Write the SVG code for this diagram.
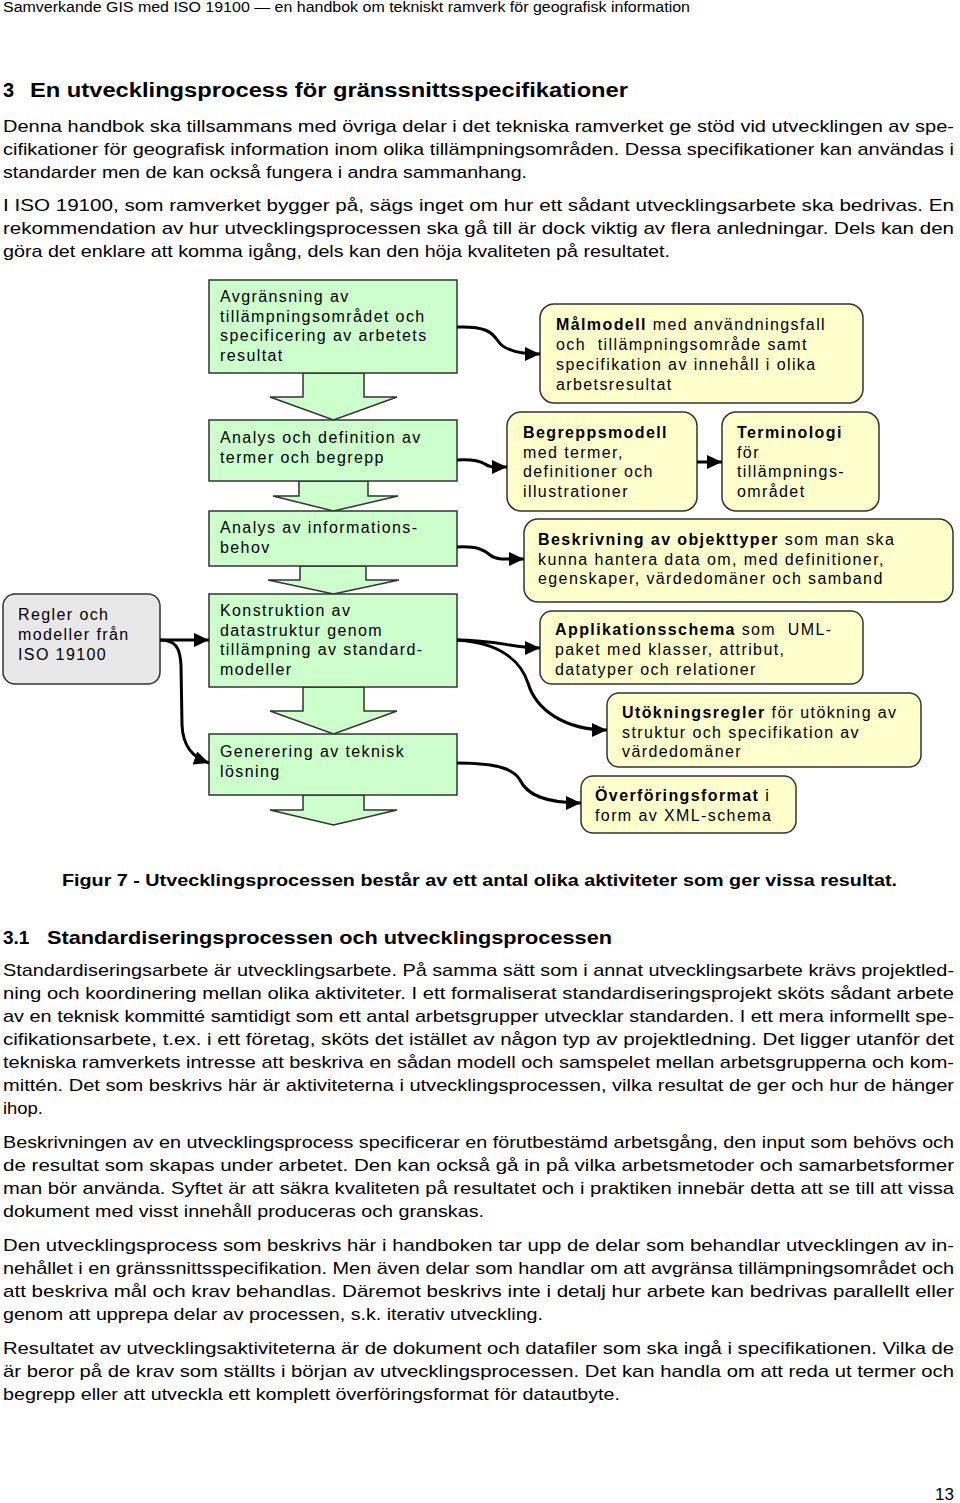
<svg xmlns="http://www.w3.org/2000/svg" width="960" height="1503" viewBox="0 0 960 1503">
<style>
.body{font-family:"Liberation Sans",Arial,sans-serif;font-size:17px;fill:#000}
.hdr{font-family:"Liberation Sans",Arial,sans-serif;font-size:14px;fill:#000}
.h1{font-family:"Liberation Sans",Arial,sans-serif;font-size:20px;font-weight:bold;fill:#000}
.h2{font-family:"Liberation Sans",Arial,sans-serif;font-size:19px;font-weight:bold;fill:#000}
.cap{font-family:"Liberation Sans",Arial,sans-serif;font-size:17px;font-weight:bold;fill:#000}
.bt{font-family:"Liberation Sans",Arial,sans-serif;font-size:16px;letter-spacing:1.4px;fill:#000}
.b{font-weight:bold}
.green{fill:#ccffcc;stroke:#333;stroke-width:1.5}
.yellow{fill:#ffffcc;stroke:#333;stroke-width:1.5}
.gray{fill:#e8e8e8;stroke:#333;stroke-width:1.5}
.conn{fill:none;stroke:#000;stroke-width:3;marker-end:url(#ah)}
</style>
<defs>
<marker id="ah" markerUnits="userSpaceOnUse" markerWidth="16" markerHeight="14" refX="15" refY="7" orient="auto">
<path d="M0,0 L15,7 L0,14 z" fill="#000"/>
</marker>
</defs>
<rect width="960" height="1503" fill="#fff"/>

<text class="hdr" x="3" y="12" textLength="687" lengthAdjust="spacingAndGlyphs">Samverkande GIS med ISO 19100  —  en handbok om tekniskt ramverk för geografisk information</text>

<text class="h1" x="3" y="97">3</text>
<text class="h1" x="30" y="97" textLength="598" lengthAdjust="spacingAndGlyphs">En utvecklingsprocess för gränssnittsspecifikationer</text>

<g class="body">
<text x="3" y="132" textLength="951" lengthAdjust="spacingAndGlyphs">Denna handbok ska tillsammans med övriga delar i det tekniska ramverket ge stöd vid utvecklingen av spe-</text>
<text x="3" y="155" textLength="951" lengthAdjust="spacingAndGlyphs">cifikationer för geografisk information inom olika tillämpningsområden. Dessa specifikationer kan användas i</text>
<text x="3" y="178" textLength="524" lengthAdjust="spacingAndGlyphs">standarder men de kan också fungera i andra sammanhang.</text>
<text x="3" y="211" textLength="951" lengthAdjust="spacingAndGlyphs">I ISO 19100, som ramverket bygger på, sägs inget om hur ett sådant utvecklingsarbete ska bedrivas. En</text>
<text x="3" y="234" textLength="951" lengthAdjust="spacingAndGlyphs">rekommendation av hur utvecklingsprocessen ska gå till är dock viktig av flera anledningar. Dels kan den</text>
<text x="3" y="257" textLength="667" lengthAdjust="spacingAndGlyphs">göra det enklare att komma igång, dels kan den höja kvaliteten på resultatet.</text>
</g>

<!-- block arrows -->
<g id="flow-arrows" class="green">
<polygon points="303,373 303,397 270,397 333.5,420 397,397 364,397 364,373"/>
<polygon points="299,481 299,496 273,496 333.5,511 398,496 368,496 368,481"/>
<polygon points="300,566 300,580 268,580 333.5,594 399,580 366,580 366,566"/>
<polygon points="303,687 303,711 270,711 333.5,734 397,711 364,711 364,687"/>
<polygon points="303,795 303,810 270,810 333.5,825 397,810 364,810 364,795"/>
</g>

<g id="n-avgransning">
<rect class="green" x="209" y="280" width="248" height="93"/>
<text class="bt"><tspan x="220" y="302">Avgränsning av</tspan><tspan x="220" y="321.7">tillämpningsområdet och</tspan><tspan x="220" y="341.4">specificering av arbetets</tspan><tspan x="220" y="361">resultat</tspan></text>
</g>
<g id="n-analys-termer">
<rect class="green" x="209" y="420" width="248" height="61"/>
<text class="bt"><tspan x="220" y="443">Analys och definition av</tspan><tspan x="220" y="462.5">termer och begrepp</tspan></text>
</g>
<g id="n-analys-info">
<rect class="green" x="209" y="511" width="248" height="55"/>
<text class="bt"><tspan x="220" y="533">Analys av informations-</tspan><tspan x="220" y="552.7">behov</tspan></text>
</g>
<g id="n-konstruktion">
<rect class="green" x="209" y="594" width="248" height="93"/>
<text class="bt"><tspan x="220" y="616">Konstruktion av</tspan><tspan x="220" y="635.7">datastruktur genom</tspan><tspan x="220" y="655.4">tillämpning av standard-</tspan><tspan x="220" y="675">modeller</tspan></text>
</g>
<g id="n-generering">
<rect class="green" x="209" y="734" width="248" height="61"/>
<text class="bt"><tspan x="220" y="757">Generering av teknisk</tspan><tspan x="220" y="776.7">lösning</tspan></text>
</g>
<g id="n-regler">
<rect class="gray" x="3" y="594" width="157" height="90" rx="12"/>
<text class="bt"><tspan x="18" y="620">Regler och</tspan><tspan x="18" y="640">modeller från</tspan><tspan x="18" y="660">ISO 19100</tspan></text>
</g>

<g id="n-malmodell">
<rect class="yellow" x="540" y="304" width="323" height="99" rx="14"/>
<text class="bt"><tspan x="556" y="330"><tspan class="b">Målmodell</tspan> med användningsfall</tspan><tspan x="556" y="350">och&#160; tillämpningsområde samt</tspan><tspan x="556" y="370">specifikation av innehåll i olika</tspan><tspan x="556" y="390">arbetsresultat</tspan></text>
</g>
<g id="n-begreppsmodell">
<rect class="yellow" x="507" y="412" width="190" height="99" rx="14"/>
<text class="bt"><tspan x="523" y="438" class="b">Begreppsmodell</tspan><tspan x="523" y="457.6">med termer,</tspan><tspan x="523" y="477.2">definitioner och</tspan><tspan x="523" y="496.8">illustrationer</tspan></text>
</g>
<g id="n-terminologi">
<rect class="yellow" x="722" y="412" width="157" height="99" rx="14"/>
<text class="bt"><tspan x="737" y="438" class="b">Terminologi</tspan><tspan x="737" y="457.6">för</tspan><tspan x="737" y="477.2">tillämpnings-</tspan><tspan x="737" y="496.8">området</tspan></text>
</g>
<g id="n-beskrivning">
<rect class="yellow" x="524" y="519" width="429" height="83" rx="14"/>
<text class="bt"><tspan x="538" y="545"><tspan class="b">Beskrivning av objekttyper</tspan> som man ska</tspan><tspan x="538" y="564.5">kunna hantera data om, med definitioner,</tspan><tspan x="538" y="584">egenskaper, värdedomäner och samband</tspan></text>
</g>
<g id="n-applikationsschema">
<rect class="yellow" x="540" y="611" width="323" height="73" rx="12"/>
<text class="bt"><tspan x="555" y="635"><tspan class="b">Applikationsschema</tspan> som&#160; UML-</tspan><tspan x="555" y="655">paket med klasser, attribut,</tspan><tspan x="555" y="675">datatyper och relationer</tspan></text>
</g>
<g id="n-utokningsregler">
<rect class="yellow" x="607" y="693" width="314" height="74" rx="12"/>
<text class="bt"><tspan x="622" y="718"><tspan class="b">Utökningsregler</tspan> för utökning av</tspan><tspan x="622" y="737.5">struktur och specifikation av</tspan><tspan x="622" y="757">värdedomäner</tspan></text>
</g>
<g id="n-overforingsformat">
<rect class="yellow" x="581" y="776" width="215" height="57" rx="12"/>
<text class="bt"><tspan x="595" y="801"><tspan class="b">Överföringsformat</tspan> i</tspan><tspan x="595" y="820.5">form av XML-schema</tspan></text>
</g>

<g id="connectors">
<path class="conn" d="M457,327 C485,326 492,332 498,341 C504,350 518,354 540,354"/>
<path class="conn" d="M457,460 C474,459 480,461 485,464 C490,468 495,467 507,467"/>
<path class="conn" d="M457,547 C478,546 484,550 490,555 C496,560 505,559 524,559"/>
<path class="conn" d="M697,462 L722,462"/>
<path class="conn" d="M160,640 L209,640"/>
<path class="conn" d="M160,640 C176,640 180,648 181,665 L182,725 C183,746 192,757 209,763"/>
<path class="conn" d="M457,640 C495,640 515,648 540,648"/>
<path class="conn" d="M457,640 C505,643 522,665 528,683 C536,710 565,730 607,730"/>
<path class="conn" d="M457,763 C500,763 514,770 520,780 C527,795 545,803 581,803"/>
</g>

<text class="cap" x="62" y="886" textLength="835" lengthAdjust="spacingAndGlyphs">Figur 7 - Utvecklingsprocessen består av ett antal olika aktiviteter som ger vissa resultat.</text>

<text class="h2" x="3" y="944">3.1</text>
<text class="h2" x="47" y="944" textLength="565" lengthAdjust="spacingAndGlyphs">Standardiseringsprocessen och utvecklingsprocessen</text>

<g class="body">
<text x="3" y="976" textLength="951" lengthAdjust="spacingAndGlyphs">Standardiseringsarbete är utvecklingsarbete. På samma sätt som i annat utvecklingsarbete krävs projektled-</text>
<text x="3" y="999" textLength="951" lengthAdjust="spacingAndGlyphs">ning och koordinering mellan olika aktiviteter. I ett formaliserat standardiseringsprojekt sköts sådant arbete</text>
<text x="3" y="1022" textLength="951" lengthAdjust="spacingAndGlyphs">av en teknisk kommitté samtidigt som ett antal arbetsgrupper utvecklar standarden. I ett mera informellt spe-</text>
<text x="3" y="1045" textLength="951" lengthAdjust="spacingAndGlyphs">cifikationsarbete, t.ex. i ett företag, sköts det istället av någon typ av projektledning. Det ligger utanför det</text>
<text x="3" y="1068" textLength="951" lengthAdjust="spacingAndGlyphs">tekniska ramverkets intresse att beskriva en sådan modell och samspelet mellan arbetsgrupperna och kom-</text>
<text x="3" y="1091" textLength="951" lengthAdjust="spacingAndGlyphs">mittén. Det som beskrivs här är aktiviteterna i utvecklingsprocessen, vilka resultat de ger och hur de hänger</text>
<text x="3" y="1114" textLength="40" lengthAdjust="spacingAndGlyphs">ihop.</text>

<text x="3" y="1148" textLength="951" lengthAdjust="spacingAndGlyphs">Beskrivningen av en utvecklingsprocess specificerar en förutbestämd arbetsgång, den input som behövs och</text>
<text x="3" y="1171" textLength="951" lengthAdjust="spacingAndGlyphs">de resultat som skapas under arbetet. Den kan också gå in på vilka arbetsmetoder och samarbetsformer</text>
<text x="3" y="1194" textLength="951" lengthAdjust="spacingAndGlyphs">man bör använda. Syftet är att säkra kvaliteten på resultatet och i praktiken innebär detta att se till att vissa</text>
<text x="3" y="1217" textLength="481" lengthAdjust="spacingAndGlyphs">dokument med visst innehåll produceras och granskas.</text>

<text x="3" y="1251" textLength="951" lengthAdjust="spacingAndGlyphs">Den utvecklingsprocess som beskrivs här i handboken tar upp de delar som behandlar utvecklingen av in-</text>
<text x="3" y="1274" textLength="951" lengthAdjust="spacingAndGlyphs">nehållet i en gränssnittsspecifikation. Men även delar som handlar om att avgränsa tillämpningsområdet och</text>
<text x="3" y="1297" textLength="951" lengthAdjust="spacingAndGlyphs">att beskriva mål och krav behandlas. Däremot beskrivs inte i detalj hur arbete kan bedrivas parallellt eller</text>
<text x="3" y="1320" textLength="540" lengthAdjust="spacingAndGlyphs">genom att upprepa delar av processen, s.k. iterativ utveckling.</text>

<text x="3" y="1354" textLength="951" lengthAdjust="spacingAndGlyphs">Resultatet av utvecklingsaktiviteterna är de dokument och datafiler som ska ingå i specifikationen. Vilka de</text>
<text x="3" y="1377" textLength="951" lengthAdjust="spacingAndGlyphs">är beror på de krav som ställts i början av utvecklingsprocessen. Det kan handla om att reda ut termer och</text>
<text x="3" y="1400" textLength="617" lengthAdjust="spacingAndGlyphs">begrepp eller att utveckla ett komplett överföringsformat för datautbyte.</text>

<text x="935" y="1500">13</text>
</g>
</svg>
